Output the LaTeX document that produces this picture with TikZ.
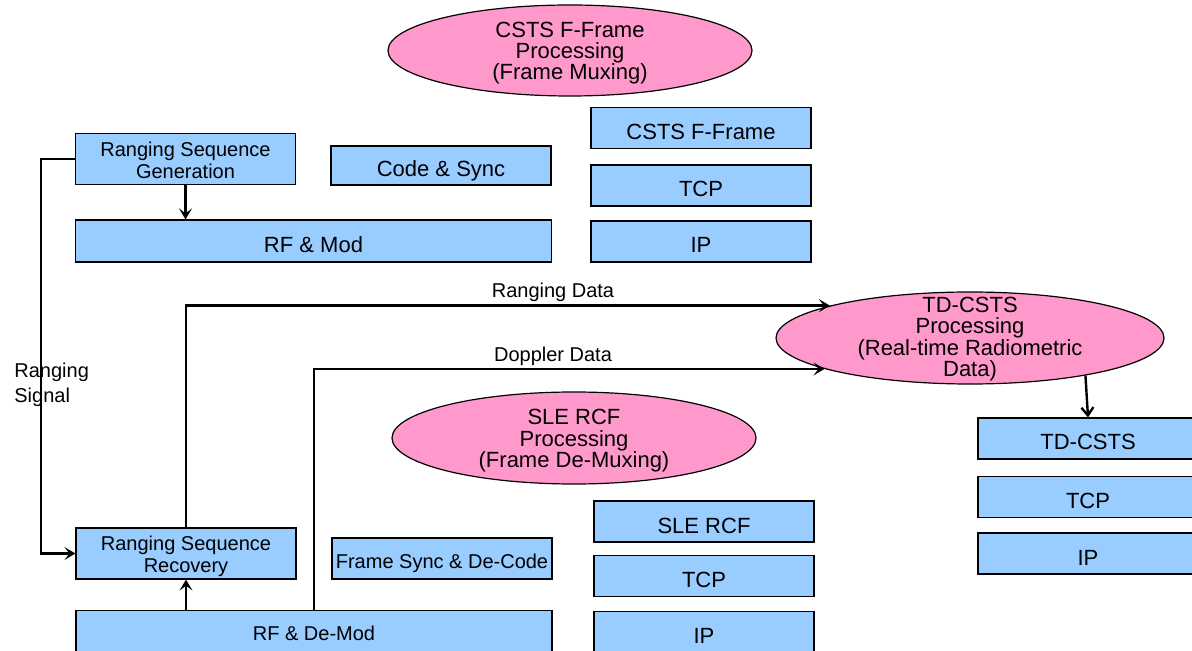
\documentclass[tikz,border=0pt]{standalone}
\usepackage{fontspec}
\setmainfont{Liberation Sans}
\usepackage{xcolor}
\usetikzlibrary{arrows.meta,shapes.geometric,positioning}

\definecolor{boxblue}{HTML}{99CCFF}
\definecolor{ovalpink}{HTML}{FF99CC}

\begin{document}
\begin{tikzpicture}[x=0.5pt, y=-0.5pt,
                >={Stealth[length=5.5pt, width=6.5pt, inset=2.5pt]},
                link/.style={->, draw, line width=1.2pt}]
        \tikzset{
                basic/.style  = {draw, line width=0.6pt, inner sep=0pt, align=center},
                box/.style    = {basic, fill=boxblue, minimum width=110pt, minimum height=20.5pt,
                                text height=11.5pt, text depth=0pt,
                                font=\fontsize{11}{11}\selectfont},
                smallbox/.style = {box, text height=9.8pt, font=\fontsize{10}{11}\selectfont},
                widebox/.style = {smallbox, minimum width=238pt},
                twobox/.style = {basic, fill=boxblue, minimum width=110pt, minimum height=25.5pt,
                                text height=19.3pt, text depth=0pt,
                                font=\fontsize{10}{11}\selectfont},
                oval/.style   = {basic, ellipse, fill=ovalpink, minimum width=182pt, minimum height=45.5pt,
                                inner ysep=-2pt, text height=29.2pt, text depth=0pt,
                                font=\fontsize{11}{10.6}\selectfont},
                lbl/.style    = {inner sep=0pt, align=left, font=\fontsize{10}{12.5}\selectfont}
        }
        \useasboundingbox (0,0) rectangle (1192,651);
        \clip (0,0) rectangle (1192,651);

        % upper half: frame muxing and the send side
        \node[oval] (ef) at (570,50.5) {CSTS F-Frame\\Processing\\(Frame Muxing)};
        \node[box] (f1) at (701,128) {CSTS F-Frame};
        \node[box] (f2) at (701,185.5) {TCP};
        \node[box] (f3) at (701,241.5) {IP};
        \node[twobox] (rsg) at (185.5,159) {Ranging Sequence\\Generation};
        \node[box, minimum height=19.5pt] (cs) at (441,165.5) {Code \& Sync};
        \node[box, minimum width=238pt, minimum height=21pt] (rfm) at (313.5,241) {RF \& Mod};

        % radiometric data processing
        \node[oval, minimum width=194pt, minimum height=46pt, inner ysep=-5pt, text height=38.3pt]
                (ed) at (970,338) {TD-CSTS\\Processing\\(Real-time Radiometric\\Data)};
        \node[box] (t1) at (1088,438.5) {TD-CSTS};
        \node[box] (t2) at (1088,497) {TCP};
        \node[box] (t3) at (1088,553.5) {IP};

        % lower half: frame de-muxing and the receive side
        \node[oval, minimum height=46pt] (es) at (574,438) {SLE RCF\\Processing\\(Frame De-Muxing)};
        \node[box] (s1) at (704,521.5) {SLE RCF};
        \node[box] (s2) at (704,576) {TCP};
        \node[box] (s3) at (704,632) {IP};
        \node[twobox] (rsr) at (186,553.5) {Ranging Sequence\\Recovery};
        \node[smallbox] (fs) at (442,558.5) {Frame Sync \& De-Code};
        \node[widebox] (rfd) at (314,631) {RF \& De-Mod};

        % labels
        \node[lbl, anchor=west] (lrs) at (14,385) {Ranging\\Signal};
        \node[lbl] (lrd) at (553,292) {Ranging Data};
        \node[lbl] (ldd) at (553,356) {Doppler Data};

        % connectors
        \coordinate (sig) at (41,159);
        \draw[link] (rsg.west) -- (sig) |- (rsr.west);
        \draw[link] (rsg.south) -- (rsg.south |- rfm.north);
        \draw[link] (rfd.north -| rsr.south) -- (rsr.south);
        \draw[link] (rsr.north) |- (ed.167.8);
        \draw[link] (rfd.north) |- (ed.192.2);
        \draw[line width=1.2pt, -{Straight Barb[length=4pt, width=6pt]}] (ed.-18) -- (t1.north);
\end{tikzpicture}
\end{document}
